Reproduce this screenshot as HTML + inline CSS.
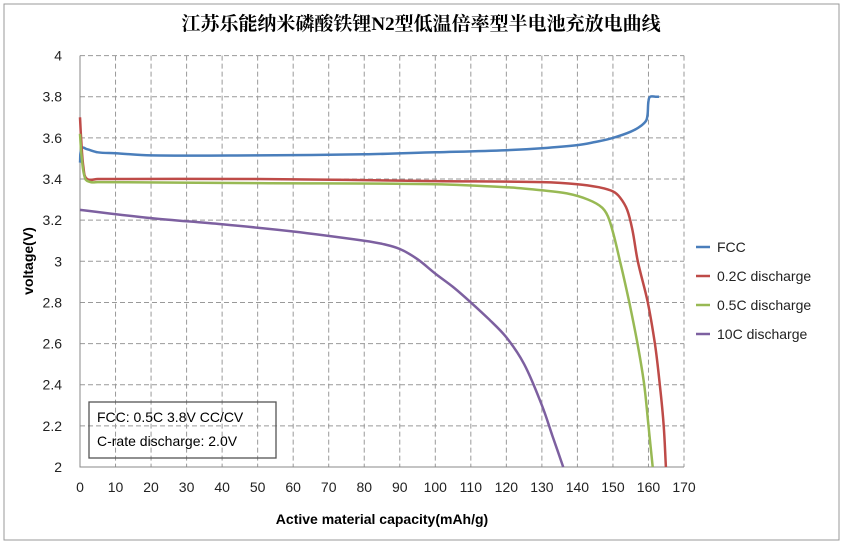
<!DOCTYPE html>
<html><head><meta charset="utf-8"><style>
body{margin:0;background:#fff;}
svg{display:block;font-family:"Liberation Sans","Noto Sans CJK SC",sans-serif;}
</style></head><body>
<svg id="chart" width="843" height="544">
<rect x="4" y="4" width="835" height="536" fill="#fff" stroke="#999"/>
<text x="421" y="30" text-anchor="middle" font-size="19" font-weight="bold" font-family="'Liberation Serif','Noto Serif CJK SC',serif">江苏乐能纳米磷酸铁锂N2型低温倍率型半电池充放电曲线</text>
<g id="grid"></g><g id="axes"></g><g id="series"></g>
<text transform="translate(33,261) rotate(-90)" text-anchor="middle" font-size="14" font-weight="bold">voltage(V)</text>
<text x="382" y="524" text-anchor="middle" font-size="14" font-weight="bold">Active material capacity(mAh/g)</text>
<g>
<rect x="89" y="402" width="187" height="56" fill="none" stroke="#555" stroke-width="1.3"/>
<text x="97" y="422" font-size="14">FCC: 0.5C 3.8V CC/CV</text>
<text x="97" y="446" font-size="14">C-rate discharge:  2.0V</text>
</g>
<g id="legend"></g>
</svg>
<script>
const xTicks=[0,10,20,30,40,50,60,70,80,90,100,110,120,130,140,150,160,170];
const yTicks=[2,2.2,2.4,2.6,2.8,3,3.2,3.4,3.6,3.8,4];
const yTickLabels=["2","2.2","2.4","2.6","2.8","3","3.2","3.4","3.6","3.8","4"];
const seriesNames=["FCC","0.2C discharge","0.5C discharge","10C discharge"];
const seriesColors=["#4a7ebb","#be4b48","#98b954","#7d60a0"];
const fccX=[0,0.5,2,5,10,20,50,80,100,120,130,140,145,150,155,158,159.5,160,160.5,162,163];
const fccY=[3.48,3.55,3.545,3.53,3.525,3.515,3.515,3.52,3.53,3.54,3.55,3.565,3.58,3.6,3.63,3.66,3.69,3.78,3.8,3.8,3.8];
const c02X=[0,0.3,1,2,5,50,100,130,140,146,150,152,154,155.5,157,159.8,161.8,163.2,164.3,164.9];
const c02Y=[3.7,3.6,3.45,3.4,3.4,3.4,3.39,3.385,3.375,3.36,3.34,3.31,3.25,3.15,3.0,2.8,2.6,2.4,2.2,2.0];
const c05X=[0,0.5,1.5,3,5,50,100,120,130,137,143,147,149,152,154.6,156.9,158.8,160,161.2];
const c05Y=[3.62,3.5,3.4,3.385,3.385,3.38,3.375,3.36,3.345,3.33,3.3,3.26,3.2,3.0,2.8,2.6,2.4,2.2,2.0];
const c10X=[0,20,40,60,80,85,90,95,100,105,110,115,120,125,130,133,136];
const c10Y=[3.25,3.21,3.18,3.145,3.1,3.085,3.06,3.01,2.94,2.875,2.8,2.72,2.63,2.5,2.3,2.15,2.0];
const seriesX=[fccX,c02X,c05X,c10X], seriesY=[fccY,c02Y,c05Y,c10Y];
const X0=80,X1=684,Y0=467,Y1=55.6;
const sx=v=>X0+(v-0)/170*(X1-X0);
const sy=v=>Y0-(v-2)/2*(Y0-Y1);
const NS="http://www.w3.org/2000/svg";
function mk(tag,attrs,parent){const e=document.createElementNS(NS,tag);for(const k in attrs)e.setAttribute(k,attrs[k]);parent.appendChild(e);return e;}
function smooth(pts){
  let d='M'+pts[0][0].toFixed(1)+','+pts[0][1].toFixed(1);
  const t=0.35;
  for(let i=0;i<pts.length-1;i++){
    const p0=pts[Math.max(i-1,0)],p1=pts[i],p2=pts[i+1],p3=pts[Math.min(i+2,pts.length-1)];
    const seg=Math.hypot(p2[0]-p1[0],p2[1]-p1[1]);
    const l1=Math.hypot(p2[0]-p0[0],p2[1]-p0[1])||1, l2=Math.hypot(p3[0]-p1[0],p3[1]-p1[1])||1;
    const c1=[p1[0]+(p2[0]-p0[0])/l1*seg*t,p1[1]+(p2[1]-p0[1])/l1*seg*t];
    const c2=[p2[0]-(p3[0]-p1[0])/l2*seg*t,p2[1]-(p3[1]-p1[1])/l2*seg*t];
    d+=`C${c1[0].toFixed(1)},${c1[1].toFixed(1)} ${c2[0].toFixed(1)},${c2[1].toFixed(1)} ${p2[0].toFixed(1)},${p2[1].toFixed(1)}`;
  }
  return d;
}
const grid=document.getElementById('grid'),axes=document.getElementById('axes'),ser=document.getElementById('series'),leg=document.getElementById('legend');
xTicks.forEach((t,i)=>{
  if(i>0){const l=mk('line',{x1:sx(t),x2:sx(t),y1:Y1,y2:Y0,stroke:'#999','stroke-dasharray':'5,3'},grid);
  }
  const tx=mk('text',{x:sx(t),y:Y0+25,'text-anchor':'middle','font-size':14,fill:'#222'},axes);tx.textContent=t;
  
});
yTicks.forEach((t,i)=>{
  if(i>0){const l=mk('line',{x1:X0,x2:X1,y1:sy(t),y2:sy(t),stroke:'#999','stroke-dasharray':'5,3'},grid);
  }
  const tx=mk('text',{x:X0-18,y:sy(t)+5,'text-anchor':'end','font-size':14,fill:'#222'},axes);tx.textContent=yTickLabels[i];
  
});
const ax=mk('path',{d:`M${X0},${Y1}V${Y0}H${X1}`,fill:'none',stroke:'#888'},axes);

seriesNames.forEach((n,i)=>{
  const pts=seriesX[i].map((x,j)=>[sx(x),sy(seriesY[i][j])]);
  const p=mk('path',{d:smooth(pts),fill:'none',stroke:seriesColors[i],'stroke-width':2.5,'stroke-linejoin':'round'},ser);
  
  const y=247+i*29;
  const g=mk('g',{},leg);
  
  mk('line',{x1:696,x2:710,y1:y,y2:y,stroke:seriesColors[i],'stroke-width':2.5},g);
  const t=mk('text',{x:717,y:y+5,'font-size':14,fill:'#222'},g);t.textContent=n;
});
</script>
</body></html>
